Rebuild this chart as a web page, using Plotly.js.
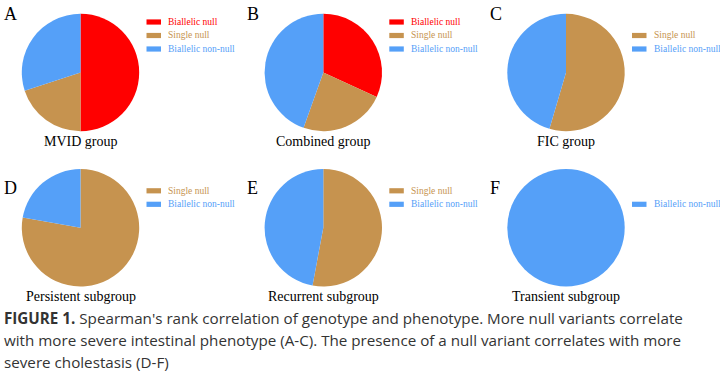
<!DOCTYPE html>
<html>
<head>
<meta charset="utf-8">
<script src="https://cdn.plot.ly/plotly-3.0.1.min.js"></script>
<style>html,body{margin:0;padding:0;background:#fff;}#chart{width:720px;height:377px;}</style>
</head>
<body>
<div id="chart"></div>
<script>
// ---- data ----
const categories = ["Biallelic null", "Single null", "Biallelic non-null"];
const panelLetters = ["A", "B", "C", "D", "E", "F"];
const groupNames = ["MVID group", "Combined group", "FIC group", "Persistent subgroup", "Recurrent subgroup", "Transient subgroup"];
const biallelicNull    = [5, 7,   0, 0, 0, 0];
const singleNull       = [2, 5.2, 6, 7, 9, 0];
const biallelicNonNull = [3, 9.8, 5, 2, 8, 1];
const captionLines = [
  "<b>FIGURE 1.</b> Spearman's rank correlation of genotype and phenotype. More null variants correlate",
  "with more severe intestinal phenotype (A-C). The presence of a null variant correlates with more",
  "severe cholestasis (D-F)"
];

// ---- style / layout ----
const colors = ["#FF0000", "#C6934F", "#55A0F8"];
const W = 720, H = 377;
const colX = [80.5, 323.3, 566];
const rowY = [72.5, 227.8];
const R = 58.7;
const legendRowOff = [-50.5, -37, -23.5];
const letterY = [14.5, 188];
const serif = "Liberation Serif";

const px = x => x / W;
const py = y => 1 - y / H;

const series = [biallelicNull, singleNull, biallelicNonNull];
const traces = [];
const shapes = [];
const annotations = [];

panelLetters.forEach((letter, i) => {
  const cx = colX[i % 3], cy = rowY[Math.floor(i / 3)];
  const labels = [], values = [], cols = [];
  categories.forEach((c, k) => {
    const v = series[k][i];
    if (v > 0) { labels.push(c); values.push(v); cols.push(colors[k]); }
  });
  traces.push({
    type: "pie",
    labels: labels,
    values: values,
    sort: false,
    direction: "clockwise",
    rotation: 0,
    textinfo: "none",
    hoverinfo: "label+percent",
    showlegend: false,
    marker: { colors: cols, line: { width: 0 } },
    domain: { x: [px(cx - R), px(cx + R)], y: [py(cy + R), py(cy - R)] }
  });
  // manual legend
  categories.forEach((c, k) => {
    if (series[k][i] > 0) {
      const ly = cy + legendRowOff[k];
      shapes.push({
        type: "rect", xref: "paper", yref: "paper",
        x0: px(cx + 66), x1: px(cx + 80.5), y0: py(ly + 2.6), y1: py(ly - 2.6),
        fillcolor: colors[k], line: { width: 0 }
      });
      annotations.push({
        xref: "paper", yref: "paper", x: px(cx + 85.5), y: py(ly),
        xanchor: "left", yanchor: "middle", showarrow: false,
        text: c, font: { family: serif, size: 9.5, color: colors[k] }
      });
    }
  });
  // panel letter
  annotations.push({
    xref: "paper", yref: "paper", x: px(cx - 78.5), y: py(letterY[Math.floor(i / 3)]),
    xanchor: "left", yanchor: "middle", showarrow: false,
    text: letter, font: { family: serif, size: 18, color: "#000" }
  });
  // group title
  annotations.push({
    xref: "paper", yref: "paper", x: px(cx), y: py(cy + 68.5),
    xanchor: "center", yanchor: "middle", showarrow: false,
    text: groupNames[i], font: { family: serif, size: 14, color: "#000" }
  });
});

const capY = [317.5, 340, 362];
captionLines.forEach((t, j) => {
  annotations.push({
    xref: "paper", yref: "paper", x: px(2), y: py(capY[j]),
    xanchor: "left", yanchor: "middle", showarrow: false, align: "left",
    text: t, font: { family: "Open Sans", size: 15.2, color: "#333" }
  });
});

const layout = {
  width: W, height: H, autosize: false,
  margin: { l: 0, r: 0, t: 0, b: 0, pad: 0 },
  paper_bgcolor: "#fff", plot_bgcolor: "#fff",
  shapes: shapes, annotations: annotations
};

Plotly.newPlot("chart", traces, layout, { staticPlot: true, displayModeBar: false });
</script>
</body>
</html>
